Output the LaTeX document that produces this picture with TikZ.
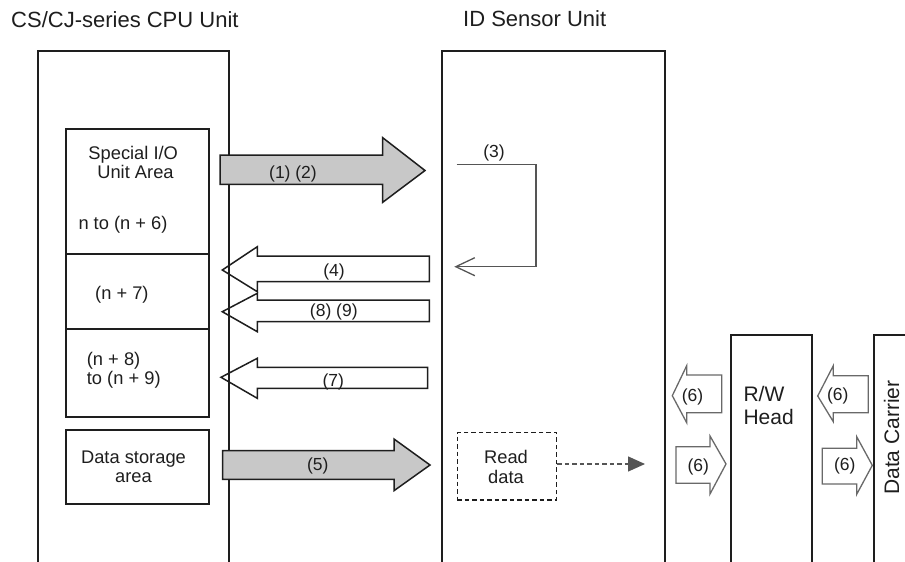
\documentclass[tikz,border=0pt]{standalone}
\usepackage{fontspec}
\setmainfont{Liberation Sans}
\usetikzlibrary{arrows.meta}
\definecolor{fillg}{RGB}{200,200,200}
\definecolor{edgeg}{RGB}{105,105,105}
\definecolor{loopg}{RGB}{85,85,85}
\definecolor{ink}{RGB}{30,30,30}
\begin{document}
\begin{tikzpicture}[x=1pt,y=-1pt,line join=miter,
  frame/.style={draw=ink,line width=2pt},
  inbox/.style={draw=ink,line width=1.8pt},
  fatR/.style={draw=ink,fill=fillg,line width=1.5pt},
  fatL/.style={draw=ink,line width=1.5pt},
  smallarr/.style={draw=edgeg,fill=white,line width=1.3pt},
  lbl/.style={font=\fontsize{17.5}{19}\selectfont,inner sep=0pt,text=ink},
  txt/.style={font=\fontsize{18.3}{20}\selectfont,inner sep=0pt,text=ink},
  big/.style={font=\fontsize{21}{23}\selectfont,inner sep=0pt,text=ink},
  ttl/.style={font=\fontsize{22}{24}\selectfont,inner sep=0pt,text=ink}]
\useasboundingbox (0,0) rectangle (905,562);

% titles
\node[ttl,anchor=base west] (cpuT) at (11,27.7) {CS/CJ-series CPU Unit};
\node[ttl,anchor=base west] (idT) at (463,26.7) {ID Sensor Unit};

% unit frames (open at the bottom)
\draw[frame] (37.7,563) -- (37.7,51) -- (229.4,51) -- (229.4,563);
\draw[frame] (441.7,563) -- (441.7,51) -- (665,51) -- (665,563);
\draw[frame] (730.7,563) -- (730.7,335) -- (812.3,335) -- (812.3,563);
\draw[frame] (874.3,563) -- (874.3,335) -- (907,335);

% CPU inner boxes
\draw[inbox] (65.7,129) rectangle (209.2,417.3);
\draw[inbox] (65.7,254) -- (209.2,254);
\draw[inbox] (65.7,329) -- (209.2,329);
\draw[inbox] (65.7,430) rectangle (209.2,504.3);

\node[txt,anchor=base] (sp1) at (133.2,159.3) {Special I/O};
\node[txt,anchor=base] (sp2) at (135.5,178.3) {Unit Area};
\node[txt,anchor=base west] (n6) at (78.3,229.3) {n to (n + 6)};
\node[txt,anchor=base west] (n7) at (95,299) {(n + 7)};
\node[txt,anchor=base west] (n8) at (86.7,365) {(n + 8)};
\node[txt,anchor=base west] (n9) at (86.7,384.3) {to (n + 9)};
\node[txt,anchor=base] (ds1) at (133.5,463.3) {Data storage};
\node[txt,anchor=base] (ds2) at (133.5,482.7) {area};

% block arrows CPU -> ID sensor
\draw[fatR] (220,155) -- (382.7,155) -- (382.7,137.7) -- (425,170.5) -- (382.7,202.3) -- (382.7,184.3) -- (220,184.3) -- cycle;
\node[lbl] (l12) at (293,173.8) {(1) (2)};
\draw[fatR] (222.7,450.7) -- (394,450.7) -- (394,439) -- (430,465) -- (394,490.7) -- (394,479.3) -- (222.7,479.3) -- cycle;
\node[lbl] (l5) at (317.8,465.7) {(5)};

% block arrows ID sensor -> CPU
\draw[fatL] (429.3,256) -- (257.3,256) -- (257.3,246.7) -- (222.3,270) -- (257.3,291.7) -- (257.3,281.7) -- (429.3,281.7) -- cycle;
\node[lbl] (l4) at (334,271.5) {(4)};
\draw[fatL] (429.3,300) -- (257.3,300) -- (257.3,293.3) -- (222.3,311.7) -- (257.3,331.7) -- (257.3,321.7) -- (429.3,321.7) -- cycle;
\node[lbl] (l89) at (333.8,312) {(8) (9)};
\draw[fatL] (427.7,367.3) -- (257.3,367.3) -- (257.3,358.3) -- (221,377.3) -- (257.3,398.3) -- (257.3,388.3) -- (427.7,388.3) -- cycle;
\node[lbl] (l7) at (333.3,382.3) {(7)};

% loop (3)
\coordinate (lpA) at (456.7,164.3);
\coordinate (lpB) at (536,164.3);
\coordinate (lpC) at (536,266.7);
\coordinate (lpD) at (454.3,266.7);
\draw[draw=loopg,line width=1.3pt,-{Straight Barb[length=19pt,width=18pt,line width=1.3pt]}] (lpA) -- (lpB) -- (lpC) -- (lpD);
\node[lbl] (l3) at (494,152.7) {(3)};

% read data
\node[draw=ink,line width=1.4pt,dash pattern=on 4.5pt off 3pt,minimum width=99.4pt,minimum height=67.3pt,inner sep=0pt] (rd) at (507,466.3) {};
\node[txt,anchor=base] (rd1) at (506,463.3) {Read};
\node[txt,anchor=base] (rd2) at (506,483.3) {data};
\coordinate (rdtip) at (645,464);
\draw[draw=loopg,line width=1.4pt,dash pattern=on 4.5pt off 3pt,-{Triangle[length=17pt,width=15pt,fill=loopg]}] (rd.east |- rdtip) -- (rdtip);

% R/W head and data carrier texts
\node[big,anchor=base west] (rw1) at (743.3,401) {R/W};
\node[big,anchor=base west] (rw2) at (743.3,424) {Head};
\node[big,anchor=base west,rotate=90] (dc) at (899,495) {Data Carrier};

% small (6) arrows
\draw[smallarr] (721.7,375) -- (686.7,375) -- (686.7,365.7) -- (672.3,395.7) -- (686.7,422.7) -- (686.7,412.7) -- (721.7,412.7) -- cycle;
\node[lbl] (s1) at (692.5,396.7) {(6)};
\draw[smallarr] (676,446.7) -- (710,446.7) -- (710,436) -- (726,464) -- (710,494) -- (710,483.3) -- (676,483.3) -- cycle;
\node[lbl] (s2) at (698.3,466.7) {(6)};
\draw[smallarr] (868.3,375.7) -- (833.3,375.7) -- (833.3,365.7) -- (817.7,396) -- (833.3,421.7) -- (833.3,412.7) -- (868.3,412.7) -- cycle;
\node[lbl] (s3) at (837.8,396) {(6)};
\draw[smallarr] (822.3,448.3) -- (856.7,448.3) -- (856.7,436.7) -- (872.3,465.3) -- (856.7,494.3) -- (856.7,484) -- (822.3,484) -- cycle;
\node[lbl] (s4) at (844.7,466) {(6)};
\end{tikzpicture}
\end{document}
